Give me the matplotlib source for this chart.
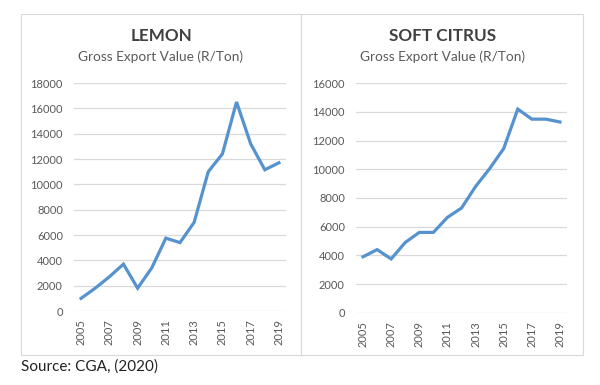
import matplotlib.pyplot as plt
from matplotlib.patches import Rectangle

# data
years = list(range(2005, 2020))
lemon = [1000, 1800, 2700, 3700, 1800, 3400, 5750, 5400, 7000,
         11000, 12400, 16500, 13200, 11150, 11700]
soft_citrus = [3900, 4400, 3750, 4900, 5600, 5600, 6650, 7300, 8800,
               10050, 11450, 14200, 13500, 13500, 13300]
year_ticks = list(range(2005, 2020, 2))

plt.rcParams['font.family'] = ['Lato', 'DejaVu Sans']

line_col = '#5592CE'
grid_col = '#D9D9D9'
tick_col = '#595959'

fig = plt.figure(figsize=(6, 3.85), dpi=100)

# panel frames (pixel coords converted to figure fractions)
W, H = 600, 385
for x0, x1 in [(21, 301), (301, 583)]:
    fig.patches.append(Rectangle((x0 / W, 1 - 355 / H), (x1 - x0) / W, (355 - 14) / H,
                                 transform=fig.transFigure, fill=False,
                                 edgecolor=grid_col, lw=0.8))

panels = [
    ("LEMON", lemon, 18000, (74, 286), (83, 311), 161),
    ("SOFT CITRUS", soft_citrus, 16000, (356, 567), (83.3, 312.7), 443),
]

for title, vals, ymax, (px0, px1), (py0, py1), cx in panels:
    ax = fig.add_axes([px0 / W, 1 - py1 / H, (px1 - px0) / W, (py1 - py0) / H])
    ax.plot(years, vals, color=line_col, lw=2.3, solid_joinstyle='miter')
    ax.set_xlim(2004.5, 2019.5)
    ax.set_ylim(0, ymax)
    ax.set_yticks(range(0, ymax + 1, 2000))
    ax.set_xticks(year_ticks)
    ax.set_xticklabels([str(y) for y in year_ticks], rotation=90)
    ax.grid(axis='y', color=grid_col, lw=0.9)
    ax.set_axisbelow(True)
    for s in ax.spines.values():
        s.set_visible(False)
    ax.tick_params(axis='both', length=0, labelsize=8, labelcolor=tick_col)
    ax.tick_params(axis='y', pad=8)
    ax.tick_params(axis='x', pad=6)
    fig.text(cx / W, 1 - 36 / H, title, ha='center', va='center',
             fontsize=12.3, fontweight='bold', color='#404040')
    fig.text(cx / W, 1 - 57 / H, "Gross Export Value (R/Ton)", ha='center',
             va='center', fontsize=9.8, color=tick_col)

fig.text(21 / W, 1 - 367 / H, "Source: CGA, (2020)", ha='left', va='center',
         fontsize=11, color='#222222')

fig.savefig("out.png", dpi=100)
